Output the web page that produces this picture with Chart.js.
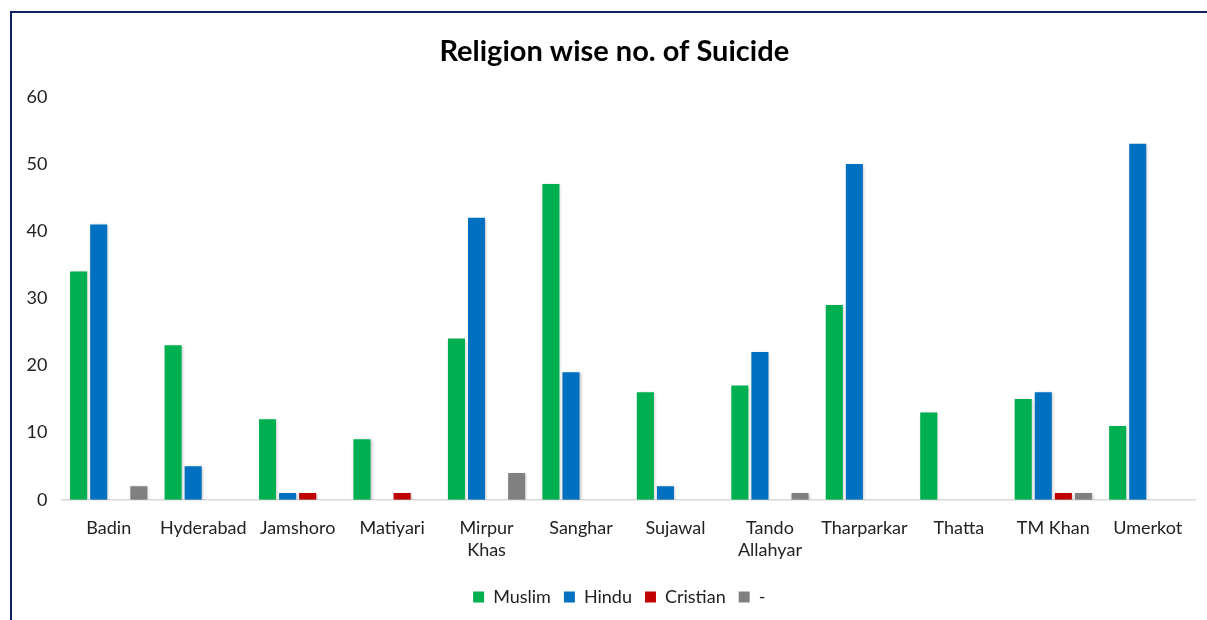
<!DOCTYPE html>
<html>
<head>
<meta charset="utf-8">
<script src="https://cdn.jsdelivr.net/npm/chart.js@4/dist/chart.umd.min.js"></script>
<style>
    html, body { margin: 0; padding: 0; background: #fff; overflow: hidden; }
    .frame {
        position: absolute; left: 10px; top: 11px;
        width: 1300px; height: 700px;
        border: 2.5px solid #0b2361;
        background: #fff;
    }
    #chartBox { position: absolute; left: 0; top: 0; width: 1205px; height: 603px; }
</style>
</head>
<body>
<div class="frame">
    <div id="chartBox"><canvas id="religionChart"></canvas></div>
</div>
<script>
// 지역(구분)
const districts = ['Badin', 'Hyderabad', 'Jamshoro', 'Matiyari', ['Mirpur', 'Khas'], 'Sanghar',
    'Sujawal', ['Tando', 'Allahyar'], 'Tharparkar', 'Thatta', 'TM Khan', 'Umerkot'];

// 종교별 건수
const muslim   = [34, 23, 12, 9, 24, 47, 16, 17, 29, 13, 15, 11];
const hindu    = [41, 5, 1, 0, 42, 19, 2, 22, 50, 0, 16, 53];
const cristian = [0, 0, 1, 1, 0, 0, 0, 0, 0, 0, 1, 0];
const other    = [2, 0, 0, 0, 4, 0, 0, 1, 0, 0, 1, 0];

const yTicks = [0, 10, 20, 30, 40, 50, 60];

const FONT = 'Lato, "Open Sans", sans-serif';

// 막대 그림자
const barShadow = {
    id: 'barShadow',
    beforeDatasetsDraw(chart) {
        const ctx = chart.ctx;
        ctx.save();
        ctx.shadowColor = 'rgba(0,0,0,0.25)';
        ctx.shadowBlur = 3;
        ctx.shadowOffsetX = 1;
        ctx.shadowOffsetY = 1;
    },
    afterDatasetsDraw(chart) {
        chart.ctx.restore();
    }
};

// 제목/범례 가로 위치 보정
const shiftBoxes = {
    id: 'shiftBoxes',
    afterLayout(chart) {
        if (chart.legend) { chart.legend.left += 9; chart.legend.right += 9; }
        if (chart.titleBlock) { chart.titleBlock.left += 4; chart.titleBlock.right += 4; }
    }
};

new Chart(document.getElementById('religionChart'), {
    type: 'bar',
    data: {
        labels: districts,
        datasets: [
            { label: 'Muslim', data: muslim, backgroundColor: '#00b050' },
            { label: 'Hindu', data: hindu, backgroundColor: '#0070c0' },
            { label: 'Cristian', data: cristian, backgroundColor: '#c00000' },
            { label: '-', data: other, backgroundColor: '#808080' }
        ]
    },
    options: {
        responsive: true,
        maintainAspectRatio: false,
        animation: false,
        layout: { padding: { left: 13.5, right: 22, top: 7, bottom: 0 } },
        datasets: { bar: { barPercentage: 0.85, categoryPercentage: 0.85 } },
        plugins: {
            title: {
                display: true,
                text: 'Religion wise no. of Suicide',
                color: '#000',
                font: { family: FONT, size: 29, weight: 'bold' },
                padding: { top: 14, bottom: 28 }
            },
            legend: {
                position: 'bottom',
                labels: {
                    color: '#222',
                    font: { family: FONT, size: 18 },
                    boxWidth: 11,
                    boxHeight: 11,
                    padding: 13
                }
            },
            tooltip: { enabled: false }
        },
        scales: {
            x: {
                grid: { display: false },
                border: { display: true, color: '#d9d9d9', width: 1.5 },
                afterFit: axis => { axis.height += 4; },
                ticks: { color: '#222', font: { family: FONT, size: 18 }, padding: 10, maxRotation: 0, autoSkip: false }
            },
            y: {
                min: 0,
                max: 60,
                grid: { display: false },
                border: { display: false },
                afterBuildTicks: axis => { axis.ticks = yTicks.map(v => ({ value: v })); },
                afterFit: axis => { axis.width = 36; },
                ticks: { color: '#222', font: { family: FONT, size: 18 }, padding: 6 }
            }
        }
    },
    plugins: [barShadow, shiftBoxes]
});
</script>
</body>
</html>
